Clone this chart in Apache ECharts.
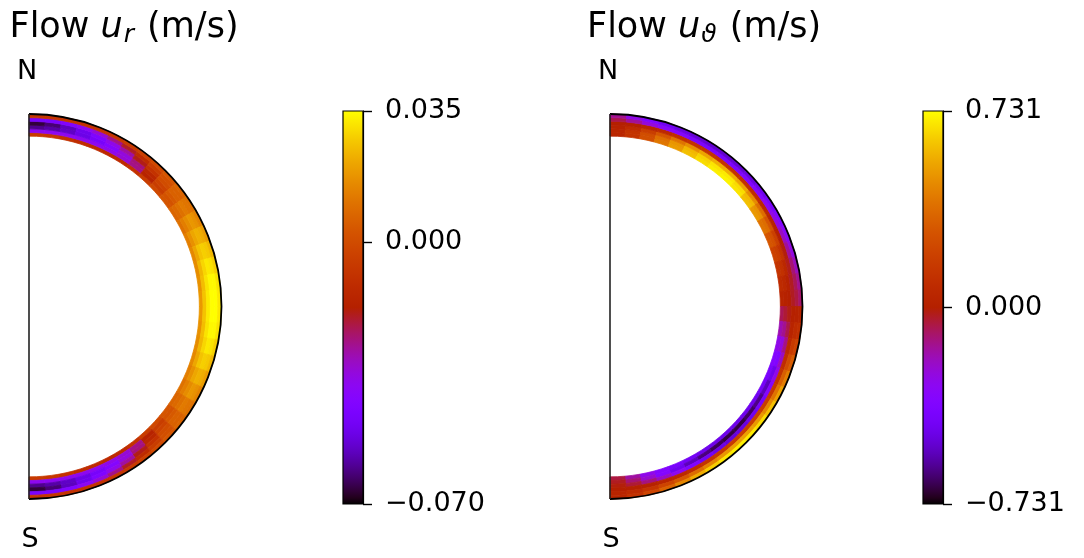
<!DOCTYPE html>
<html>
<head>
<meta charset="utf-8">
<script src="https://cdn.jsdelivr.net/npm/echarts@6/dist/echarts.min.js"></script>
<style>
html,body{margin:0;padding:0;background:#ffffff;}
#main{width:1084px;height:558px;}
</style>
</head>
<body>
<div id="main"></div>
<script>
// ---- grid coordinates (colatitude in degrees, radius as fraction of outer radius) ----
const thetaEdges = [0,5,10,15,20,25,30,35,40,45,50,55,60,65,70,75,80,85,90,
  95,100,105,110,115,120,125,130,135,140,145,150,155,160,165,170,175,180];
const radiusEdges = [0.885, 0.904, 0.923, 0.942, 0.962, 0.981, 1.0];

// ---- Flow u_r (m/s): one array per radial layer, inner -> outer, N -> S ----
const ur_L0 = [-0.006,-0.007,-0.009,-0.011,-0.012,-0.013,-0.012,-0.009,-0.005,-0.001,0.003,0.007,0.010,0.013,0.015,0.016,0.017,0.018,
  0.018,0.017,0.016,0.015,0.013,0.010,0.007,0.003,-0.001,-0.005,-0.009,-0.012,-0.013,-0.012,-0.011,-0.009,-0.007,-0.006];
const ur_L1 = [-0.038,-0.038,-0.038,-0.038,-0.038,-0.037,-0.034,-0.027,-0.016,-0.005,0.002,0.008,0.013,0.017,0.021,0.024,0.025,0.026,
  0.026,0.025,0.024,0.021,0.017,0.013,0.008,0.002,-0.005,-0.016,-0.027,-0.034,-0.037,-0.038,-0.038,-0.038,-0.038,-0.038];
const ur_L2 = [-0.060,-0.058,-0.055,-0.051,-0.047,-0.042,-0.035,-0.026,-0.014,-0.003,0.004,0.010,0.016,0.021,0.026,0.029,0.031,0.032,
  0.032,0.031,0.029,0.026,0.021,0.016,0.010,0.004,-0.003,-0.014,-0.026,-0.035,-0.042,-0.047,-0.051,-0.055,-0.058,-0.060];
const ur_L3 = [-0.066,-0.062,-0.056,-0.050,-0.044,-0.037,-0.029,-0.019,-0.009,0.000,0.006,0.012,0.018,0.023,0.028,0.032,0.034,0.035,
  0.035,0.034,0.032,0.028,0.023,0.018,0.012,0.006,0.000,-0.009,-0.019,-0.029,-0.037,-0.044,-0.050,-0.056,-0.062,-0.066];
const ur_L4 = [-0.046,-0.045,-0.043,-0.039,-0.034,-0.027,-0.020,-0.012,-0.005,0.001,0.006,0.011,0.017,0.022,0.027,0.031,0.034,0.035,
  0.035,0.034,0.031,0.027,0.022,0.017,0.011,0.006,0.001,-0.005,-0.012,-0.020,-0.027,-0.034,-0.039,-0.043,-0.045,-0.046];
const ur_L5 = [-0.008,-0.008,-0.009,-0.009,-0.009,-0.008,-0.006,-0.004,-0.001,0.003,0.007,0.010,0.014,0.019,0.024,0.028,0.031,0.032,
  0.032,0.031,0.028,0.024,0.019,0.014,0.010,0.007,0.003,-0.001,-0.004,-0.006,-0.008,-0.009,-0.009,-0.009,-0.008,-0.008];

// ---- Flow u_theta (m/s) ----
const ut_L0 = [0.04,0.12,0.26,0.40,0.51,0.60,0.66,0.70,0.71,0.68,0.60,0.50,0.39,0.29,0.20,0.13,0.08,0.03,
  -0.08,-0.18,-0.27,-0.34,-0.39,-0.42,-0.44,-0.45,-0.46,-0.46,-0.46,-0.45,-0.43,-0.40,-0.35,-0.27,-0.16,-0.06];
const ut_L1 = [0.04,0.12,0.25,0.38,0.49,0.58,0.64,0.68,0.69,0.66,0.58,0.48,0.37,0.27,0.18,0.11,0.06,0.02,
  -0.05,-0.14,-0.25,-0.36,-0.46,-0.54,-0.60,-0.64,-0.67,-0.67,-0.65,-0.61,-0.54,-0.45,-0.34,-0.22,-0.11,-0.03];
const ut_L2 = [0.02,0.08,0.18,0.29,0.39,0.47,0.53,0.56,0.56,0.53,0.46,0.37,0.28,0.19,0.12,0.06,0.02,0.00,
  -0.02,-0.07,-0.13,-0.20,-0.27,-0.34,-0.40,-0.45,-0.48,-0.49,-0.47,-0.43,-0.37,-0.29,-0.20,-0.12,-0.05,-0.01];
const ut_L3 = [0.00,0.01,0.04,0.07,0.10,0.12,0.13,0.13,0.12,0.11,0.09,0.06,0.03,0.01,-0.01,-0.02,-0.03,-0.03,
  0.01,0.03,0.06,0.09,0.12,0.15,0.17,0.18,0.18,0.17,0.15,0.12,0.09,0.06,0.04,0.02,0.01,0.00];
const ut_L4 = [-0.07,-0.15,-0.24,-0.31,-0.35,-0.38,-0.39,-0.39,-0.38,-0.36,-0.33,-0.29,-0.25,-0.20,-0.15,-0.11,-0.08,-0.06,
  0.02,0.08,0.16,0.24,0.32,0.39,0.45,0.50,0.52,0.52,0.49,0.44,0.37,0.29,0.21,0.13,0.07,0.03];
const ut_L5 = [-0.14,-0.26,-0.37,-0.44,-0.48,-0.50,-0.51,-0.51,-0.50,-0.48,-0.45,-0.41,-0.36,-0.31,-0.25,-0.19,-0.14,-0.10,
  0.03,0.10,0.20,0.31,0.42,0.52,0.60,0.66,0.69,0.70,0.68,0.63,0.55,0.45,0.33,0.21,0.11,0.04];

// ---- colorbar ranges / tick labels ----
const urRange = [-0.070, 0.035];
const utRange = [-0.731, 0.731];
const urTicks = [-0.070, 0.000, 0.035];
const utTicks = [-0.731, 0.000, 0.731];
const poleLabels = ['N', 'S'];

// ---- matplotlib "gnuplot" colormap ----
function gnuplot(x) {
  const r = Math.sqrt(x), g = x * x * x, b = Math.max(0, Math.sin(2 * Math.PI * x));
  const c = v => Math.round(Math.min(1, Math.max(0, v)) * 255);
  return 'rgb(' + c(r) + ',' + c(g) + ',' + c(b) + ')';
}
const cmap = [];
for (let i = 0; i <= 60; i++) cmap.push(gnuplot(i / 60));
function cmapGradient() {
  const stops = cmap.map((col, i) => ({offset: i / (cmap.length - 1), color: col}));
  return new echarts.graphic.LinearGradient(0, 1, 0, 0, stops);
}

function cells(layers) {
  const out = [];
  layers.forEach((row, i) => row.forEach((v, j) => {
    out.push([radiusEdges[i], radiusEdges[i + 1], thetaEdges[j], thetaEdges[j + 1], v]);
  }));
  return out;
}

function cellRender(params, api) {
  const r0 = api.value(0), r1 = api.value(1), t0 = api.value(2), t1 = api.value(3);
  const tm = (t0 + t1) / 2;
  const pts = [api.coord([r0, t0]), api.coord([r1, t0]), api.coord([r1, tm]), api.coord([r1, t1]), api.coord([r0, t1]), api.coord([r0, tm])];
  const col = api.visual('color');
  return {type: 'polygon', shape: {points: pts}, style: {fill: col, stroke: col, lineWidth: 0.8}};
}

function outlineRender(params, api) {
  const rOut = api.value(0), tTop = api.value(1), tBot = api.value(2);
  const c = api.coord([0, tTop]);
  const top = api.coord([rOut, tTop]);
  const bot = api.coord([rOut, tBot]);
  const R = Math.hypot(top[0] - c[0], top[1] - c[1]);
  const a0 = Math.atan2(top[1] - c[1], top[0] - c[0]);
  const a1 = Math.atan2(bot[1] - c[1], bot[0] - c[0]);
  return {type: 'group', children: [
    {type: 'arc', shape: {cx: c[0], cy: c[1], r: R, startAngle: a0, endAngle: a1, clockwise: true},
     style: {stroke: '#000', lineWidth: 1.8, fill: null}},
    {type: 'line', shape: {x1: top[0], y1: top[1], x2: bot[0], y2: bot[1]},
     style: {stroke: '#222', lineWidth: 1.6}}
  ]};
}

const fmt = v => (v < 0 ? '\u2212' : '') + Math.abs(v).toFixed(3);
const FONT = 'DejaVu Sans';

function cbAxis(idx, range, ticks) {
  return {
    gridIndex: idx, type: 'value', position: 'right', min: range[0], max: range[1],
    axisLine: {show: true, onZero: false, lineStyle: {color: '#000', width: 1.2}},
    axisTick: {show: true, inside: false, customValues: ticks, length: 9, lineStyle: {color: '#000', width: 1.4}},
    axisLabel: {show: true, customValues: ticks, formatter: fmt, margin: 22, color: '#000', fontSize: 27, fontFamily: FONT},
    splitLine: {show: false}
  };
}

function title(x, sub) {
  return {
    type: 'text', left: x, top: 10, silent: true,
    style: {
      text: '{a|Flow }{i|u}{s|' + sub + '}{a| (m/s)}',
      rich: {
        a: {fontSize: 35, fontFamily: FONT, lineHeight: 40, fill: '#000'},
        i: {fontSize: 35, fontFamily: FONT, fontStyle: 'italic', lineHeight: 40, fill: '#000'},
        s: {fontSize: 25, fontFamily: FONT, fontStyle: 'italic', lineHeight: 21, verticalAlign: 'bottom', padding: [0, 2, 0, 1], fill: '#000'}
      }
    }
  };
}
function poleText(txt, x, y) {
  return {type: 'text', x: x, y: y, silent: true,
    style: {text: txt, fontSize: 27, fontFamily: FONT, fill: '#000', align: 'center', verticalAlign: 'top'}};
}

const chart = echarts.init(document.getElementById('main'), null, {renderer: 'canvas'});
const option = {
  animation: false,
  backgroundColor: '#ffffff',
  polar: [
    {center: [29, 306.5], radius: [0, 192.5]},
    {center: [610, 306.5], radius: [0, 192.5]}
  ],
  angleAxis: [
    {polarIndex: 0, type: 'value', min: 0, max: 360, startAngle: 90, clockwise: true, show: false},
    {polarIndex: 1, type: 'value', min: 0, max: 360, startAngle: 90, clockwise: true, show: false}
  ],
  radiusAxis: [
    {polarIndex: 0, type: 'value', min: 0, max: 1, show: false},
    {polarIndex: 1, type: 'value', min: 0, max: 1, show: false}
  ],
  grid: [
    {left: 343, top: 111, width: 20, height: 393, show: true, borderColor: '#000', borderWidth: 1.2, backgroundColor: cmapGradient()},
    {left: 923, top: 111, width: 20, height: 393, show: true, borderColor: '#000', borderWidth: 1.2, backgroundColor: cmapGradient()}
  ],
  xAxis: [
    {gridIndex: 0, type: 'value', show: false, min: 0, max: 1},
    {gridIndex: 1, type: 'value', show: false, min: 0, max: 1}
  ],
  yAxis: [cbAxis(0, urRange, urTicks), cbAxis(1, utRange, utTicks)],
  visualMap: [
    {type: 'continuous', show: false, seriesIndex: 0, dimension: 4, min: urRange[0], max: urRange[1], inRange: {color: cmap}},
    {type: 'continuous', show: false, seriesIndex: 1, dimension: 4, min: utRange[0], max: utRange[1], inRange: {color: cmap}}
  ],
  series: [
    {type: 'custom', coordinateSystem: 'polar', polarIndex: 0, silent: true,
     encode: {radius: [0, 1], angle: [2, 3]}, renderItem: cellRender,
     data: cells([ur_L0, ur_L1, ur_L2, ur_L3, ur_L4, ur_L5])},
    {type: 'custom', coordinateSystem: 'polar', polarIndex: 1, silent: true,
     encode: {radius: [0, 1], angle: [2, 3]}, renderItem: cellRender,
     data: cells([ut_L0, ut_L1, ut_L2, ut_L3, ut_L4, ut_L5])},
    {type: 'custom', coordinateSystem: 'polar', polarIndex: 0, silent: true, z: 5,
     encode: {radius: 0, angle: 1}, renderItem: outlineRender, data: [[1, 0, 180]]},
    {type: 'custom', coordinateSystem: 'polar', polarIndex: 1, silent: true, z: 5,
     encode: {radius: 0, angle: 1}, renderItem: outlineRender, data: [[1, 0, 180]]}
  ],
  graphic: [
    title(9.5, 'r'),
    title(587, '\u03D1'),
    poleText(poleLabels[0], 27, 58),
    poleText(poleLabels[1], 30, 526),
    poleText(poleLabels[0], 608, 58),
    poleText(poleLabels[1], 611, 526)
  ]
};
chart.setOption(option);
</script>
</body>
</html>
